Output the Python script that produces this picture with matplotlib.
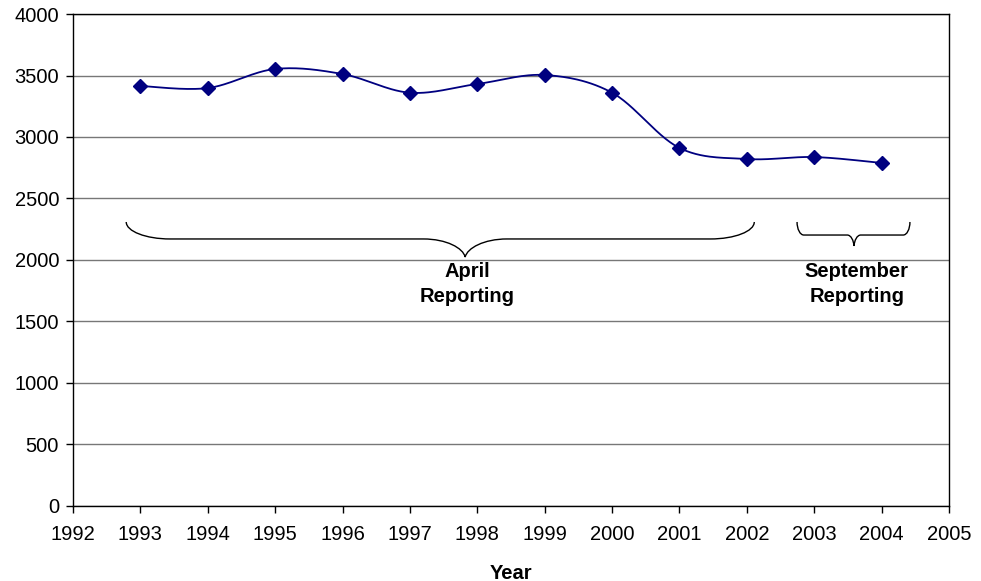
import numpy as np
import matplotlib.pyplot as plt
from matplotlib.path import Path
from matplotlib.patches import PathPatch

plt.rcParams['font.family'] = ['Liberation Sans', 'DejaVu Sans']

# Data
years = [1993, 1994, 1995, 1996, 1997, 1998, 1999, 2000, 2001, 2002, 2003, 2004]
values = [3415, 3398, 3553, 3512, 3360, 3431, 3504, 3360, 2911, 2821, 2837, 2789]

x_ticks = list(range(1992, 2006))
y_ticks = list(range(0, 4001, 500))

# brace annotations: (left, right, tip x)
april_span = (1992.79, 2002.11, 1997.82)
sept_span = (2002.745, 2004.42, 2003.59)


def smooth_curve(x, y, n=30):
    # Excel-like smoothed line: cubic Bezier with Catmull-Rom control points
    x = np.asarray(x, float)
    y = np.asarray(y, float)
    px = np.concatenate([[x[0]], x, [x[-1]]])
    py = np.concatenate([[y[0]], y, [y[-1]]])
    xs, ys = [], []
    t = np.linspace(0, 1, n)
    for i in range(1, len(px) - 2):
        p0 = np.array([px[i], py[i]])
        p3 = np.array([px[i + 1], py[i + 1]])
        c1 = p0 + (np.array([px[i + 1], py[i + 1]]) - np.array([px[i - 1], py[i - 1]])) / 6
        c2 = p3 - (np.array([px[i + 2], py[i + 2]]) - np.array([px[i], py[i]])) / 6
        b = ((1 - t) ** 3)[:, None] * p0 + (3 * (1 - t) ** 2 * t)[:, None] * c1 \
            + (3 * (1 - t) * t ** 2)[:, None] * c2 + (t ** 3)[:, None] * p3
        xs.extend(b[:, 0])
        ys.extend(b[:, 1])
    return np.array(xs), np.array(ys)


def brace(ax, span, ytop, ymid, ytip, r_end, r_mid):
    x0, x1, xt = span
    k = 0.55
    dy_end = ymid - ytop
    dy_tip = ytip - ymid
    verts = [
        (x0, ytop),
        (x0, ytop + k * dy_end), (x0 + r_end * (1 - k), ymid), (x0 + r_end, ymid),
        (xt - r_mid, ymid),
        (xt - r_mid * 0.45, ymid), (xt - r_mid * 0.05, ymid + 0.5 * dy_tip), (xt, ytip),
        (xt + r_mid * 0.05, ymid + 0.5 * dy_tip), (xt + r_mid * 0.45, ymid), (xt + r_mid, ymid),
        (x1 - r_end, ymid),
        (x1 - r_end * (1 - k), ymid), (x1, ytop + k * dy_end), (x1, ytop),
    ]
    codes = [Path.MOVETO,
             Path.CURVE4, Path.CURVE4, Path.CURVE4,
             Path.LINETO,
             Path.CURVE4, Path.CURVE4, Path.CURVE4,
             Path.CURVE4, Path.CURVE4, Path.CURVE4,
             Path.LINETO,
             Path.CURVE4, Path.CURVE4, Path.CURVE4]
    ax.add_patch(PathPatch(Path(verts, codes), fill=False, color='black', lw=1))


fig = plt.figure(figsize=(9.81, 5.81), dpi=100)
ax = fig.add_axes([0.0744, 0.1291, 0.8930, 0.8468])

sx, sy = smooth_curve(years, values)
ax.plot(sx, sy, color='#000080', lw=1.3, zorder=3)
ax.plot(years, values, 'D', color='#000080', ms=7, zorder=4)

ax.set_xlim(1992, 2005)
ax.set_ylim(0, 4000)
ax.set_xticks(x_ticks)
ax.set_yticks(y_ticks)
ax.tick_params(labelsize=14.5, direction='out', length=5, width=1)
ax.tick_params(axis='x', pad=9)
ax.tick_params(axis='y', pad=5)
ax.yaxis.grid(True, color='#777777', lw=1)
ax.set_axisbelow(True)
for s in ax.spines.values():
    s.set_linewidth(1)
ax.set_xlabel('Year', fontsize=14.5, fontweight='bold', labelpad=14)

brace(ax, april_span, 2309, 2171, 2024, 0.65, 0.62)
brace(ax, sept_span, 2309, 2203, 2114, 0.1, 0.1)

ax.text(1997.85, 1805, 'April\nReporting', ha='center', va='center',
        fontsize=14.5, fontweight='bold', linespacing=1.35)
ax.text(2003.63, 1805, 'September\nReporting', ha='center', va='center',
        fontsize=14.5, fontweight='bold', linespacing=1.35)

fig.savefig('out.png', dpi=100)
